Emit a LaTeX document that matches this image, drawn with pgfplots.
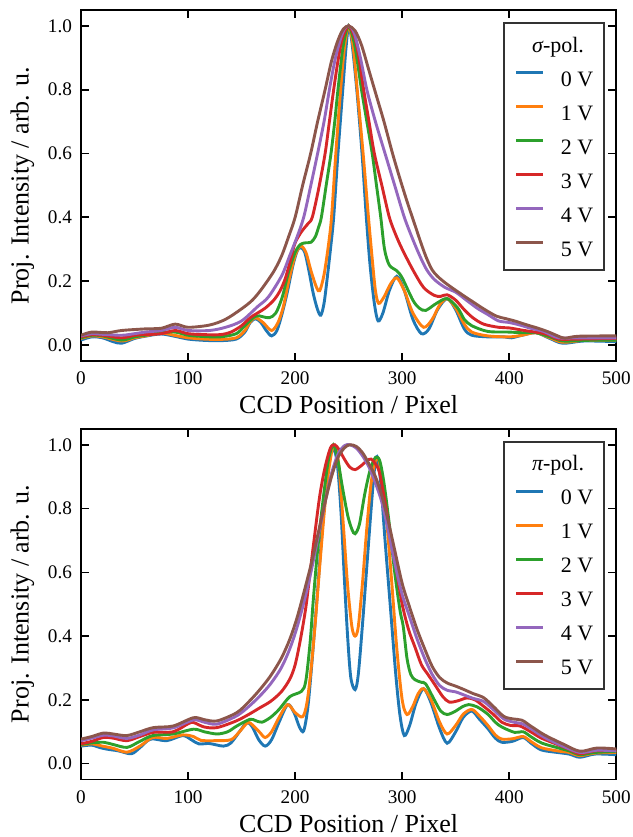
\documentclass[border=0pt]{standalone}
\usepackage{fontspec}
\setmainfont{Liberation Serif}
\usepackage{pgfplots}
\pgfplotsset{compat=1.18}

\definecolor{c0}{HTML}{1F77B4}
\definecolor{c1}{HTML}{FF7F0E}
\definecolor{c2}{HTML}{2CA02C}
\definecolor{c3}{HTML}{D62728}
\definecolor{c4}{HTML}{9467BD}
\definecolor{c5}{HTML}{8C564B}

\pgfplotsset{
  panel/.style={
    scale only axis, width=267.5pt, height=175.3pt,
    xmin=0, xmax=500, ymin=-0.05, ymax=1.05,
    xtick={0,100,...,500}, ytick={0,0.2,0.4,0.6,0.8,1.0},
    tick align=inside, major tick length=4pt,
    every tick/.style={black, line width=0.8pt},
    axis line style={line width=0.8pt},
    xlabel={CCD Position / Pixel},
    ylabel={Proj. Intensity / arb. u.},
    label style={font=\fontsize{13}{15}\selectfont},
    xlabel style={inner sep=1.5pt, yshift=-0.5pt},
    ticklabel style={font=\fontsize{9.6}{11}\selectfont},
    /pgf/number format/assume math mode=true,
    yticklabel style={/pgf/number format/fixed, /pgf/number format/precision=1,
      /pgf/number format/fixed zerofill, xshift=-1pt},
    xticklabel style={yshift=-2pt},
    legend style={at={(1,1)}, anchor=north east, xshift=-5.5pt, yshift=-6pt,
      draw=black!80, line width=1pt, inner xsep=5.5pt, inner ysep=7pt,
      font=\fontsize{11}{13}\selectfont, row sep=9.5pt, column sep=8pt,
      nodes={inner sep=0pt, text height=7.5pt, text depth=0pt}},
    legend image code/.code={\draw[#1] (0pt,3pt) -- (13.5pt,3pt);},
    every axis plot/.append style={line width=1.45pt, smooth, no markers},
  }
}

\begin{document}
\begin{tikzpicture}
\useasboundingbox (-40.5pt,-238pt) rectangle (275.5pt,180.3pt);

% sigma polarisation
\begin{axis}[panel, name=top, at={(0,0)}, anchor=south west]
\addlegendimage{empty legend}
\addlegendentry{\hspace*{-19pt}{\itshape σ}-pol.}

\addplot[c0] coordinates {
(0,0.015)(10,0.025)(20,0.022)(30,0.01)(38,0.005)(50,0.02)(60,0.027)(75,0.034)(90,0.025)(100,0.018)
(115,0.014)(130,0.013)(145,0.018)(153,0.04)(158,0.07)(163,0.082)(168,0.07)(173,0.045)(178,0.028)
(183,0.045)(188,0.1)(193,0.17)(198,0.25)(202,0.295)(205,0.305)(209,0.29)(213,0.23)(217,0.16)
(221,0.11)(224,0.093)(227,0.13)(230,0.21)(233,0.30)(236,0.40)(240,0.60)(244.5,0.80)(247.5,0.93)
(250,1.0)(253,0.95)(257.6,0.80)(262.5,0.60)(266.5,0.40)(270,0.25)(274,0.13)(277.5,0.075)(282,0.10)
(288,0.17)(295,0.215)(302,0.17)(310,0.08)(318,0.035)(325,0.05)(333,0.11)(342,0.145)(350,0.11)
(358,0.05)(365,0.03)(380,0.025)(395,0.025)(402,0.022)(412,0.03)(425,0.038)(438,0.02)(450,0.005)
(470,0.012)(500,0.01)};
\addlegendentry{0 V}

\addplot[c1] coordinates {
(0,0.02)(10,0.028)(20,0.025)(38,0.012)(50,0.022)(60,0.028)(75,0.037)(90,0.028)(100,0.022)
(115,0.018)(130,0.017)(145,0.022)(153,0.045)(158,0.072)(163,0.085)(170,0.07)(178,0.045)(184,0.07)
(189,0.12)(194,0.2)(200,0.28)(205,0.31)(210,0.29)(215,0.23)(220,0.18)(223,0.17)(227,0.22)
(231,0.31)(234,0.40)(238,0.60)(242.5,0.80)(246,0.93)(250,1.0)(254,0.94)(258,0.80)(263.5,0.60)
(268.5,0.40)(272,0.27)(275,0.17)(278,0.13)(283,0.15)(289,0.19)(295,0.21)(302,0.17)(310,0.10)
(320,0.055)(328,0.08)(335,0.125)(342,0.145)(350,0.115)(358,0.065)(365,0.04)(380,0.028)(400,0.025)
(412,0.03)(425,0.038)(438,0.022)(450,0.008)(470,0.014)(500,0.015)};
\addlegendentry{1 V}

\addplot[c2] coordinates {
(0,0.022)(10,0.03)(20,0.028)(38,0.015)(50,0.025)(60,0.03)(75,0.038)(88,0.04)(100,0.03)
(115,0.026)(130,0.025)(145,0.035)(153,0.06)(163,0.09)(170,0.088)(176,0.085)(182,0.1)(188,0.15)
(194,0.23)(200,0.29)(205,0.315)(210,0.32)(215,0.322)(219,0.34)(222,0.37)(224.5,0.40)(229,0.50)
(233.5,0.60)(237,0.70)(240,0.80)(245,0.94)(250,1.0)(255,0.95)(258.5,0.88)(262,0.80)(267,0.70)
(272,0.60)(276,0.50)(280,0.40)(283.5,0.30)(288,0.25)(295,0.232)(300,0.21)(310,0.14)(316,0.115)
(322,0.108)(332,0.13)(342,0.145)(352,0.115)(358,0.08)(365,0.06)(380,0.042)(400,0.04)(412,0.038)
(425,0.038)(438,0.025)(450,0.012)(470,0.014)(500,0.015)};
\addlegendentry{2 V}

\addplot[c3] coordinates {
(0,0.025)(10,0.032)(20,0.03)(38,0.022)(50,0.03)(60,0.032)(75,0.035)(88,0.045)(100,0.035)
(115,0.032)(130,0.032)(140,0.04)(150,0.06)(158,0.085)(165,0.10)(172,0.115)(180,0.14)(186,0.17)
(191,0.21)(196,0.27)(200,0.32)(206,0.355)(212,0.38)(216,0.40)(222,0.49)(228,0.60)(232,0.70)
(236,0.80)(240,0.89)(244,0.96)(250,1.0)(256,0.96)(260,0.89)(264,0.80)(269,0.70)(274,0.60)
(281,0.50)(288,0.40)(294,0.345)(300,0.30)(310,0.235)(320,0.18)(330,0.155)(336,0.152)(342,0.157)
(350,0.14)(358,0.11)(366,0.085)(376,0.065)(390,0.055)(400,0.053)(414,0.045)(430,0.037)(438,0.03)
(446,0.018)(465,0.018)(500,0.02)};
\addlegendentry{3 V}

\addplot[c4] coordinates {
(0,0.028)(10,0.035)(20,0.033)(38,0.03)(50,0.035)(60,0.04)(75,0.045)(88,0.055)(100,0.045)
(120,0.045)(135,0.055)(150,0.075)(165,0.12)(175,0.15)(187.5,0.217)(195,0.28)(202,0.34)(208,0.40)
(214,0.49)(221,0.60)(227,0.70)(232,0.80)(237,0.89)(242,0.955)(246,0.99)(250,1.0)(255,0.98)
(261,0.90)(267,0.80)(275,0.70)(284,0.60)(293,0.50)(302,0.40)(310,0.33)(317,0.275)(323,0.235)
(330,0.205)(340,0.18)(350,0.165)(360,0.14)(370,0.115)(380,0.095)(390,0.075)(400,0.07)(410,0.062)
(420,0.052)(432,0.042)(446,0.022)(465,0.022)(500,0.022)};
\addlegendentry{4 V}

\addplot[c5] coordinates {
(0,0.03)(10,0.04)(25,0.038)(38,0.045)(60,0.05)(75,0.052)(88,0.065)(100,0.055)(120,0.062)
(135,0.08)(150,0.113)(160,0.14)(168.7,0.175)(180,0.23)(187.5,0.28)(194,0.34)(200,0.40)(207,0.50)
(214.5,0.60)(221,0.70)(228,0.80)(234,0.89)(240,0.955)(245,0.99)(250,1.0)(256,0.985)(262,0.94)
(269,0.86)(276,0.78)(283,0.70)(291,0.60)(298,0.52)(305,0.445)(312,0.375)(318,0.315)(323,0.27)
(328,0.235)(333,0.215)(340,0.195)(347,0.178)(357,0.155)(366,0.135)(376,0.113)(388,0.09)(397,0.082)
(406,0.074)(417,0.062)(427,0.052)(437,0.04)(446,0.027)(452,0.021)(465,0.027)(500,0.028)};
\addlegendentry{5 V}
\end{axis}

% pi polarisation
\begin{axis}[panel, name=bottom, at={(0,-209.3pt)}, anchor=south west]
\addlegendimage{empty legend}
\addlegendentry{\hspace*{-19pt}{\itshape π}-pol.}

\addplot[c0] coordinates {
(0,0.055)(10,0.058)(18,0.05)(25,0.045)(35,0.04)(47,0.031)(55,0.05)(65,0.077)(80,0.072)(95,0.088)
(103,0.075)(110,0.062)(120,0.063)(133,0.055)(140,0.065)(148,0.1)(155,0.129)(160,0.115)(166,0.075)
(172,0.055)(178,0.075)(185,0.13)(193,0.185)(199,0.16)(204,0.115)(208,0.103)(212,0.18)(216,0.33)
(220,0.5)(225,0.72)(229,0.88)(233,0.97)(237,0.98)(240,0.92)(243,0.78)(246,0.58)(249,0.4)
(252,0.27)(256,0.232)(259,0.28)(263,0.44)(267,0.62)(271,0.80)(274,0.92)(276.4,0.963)(280,0.88)
(284,0.70)(289,0.49)(294,0.28)(298,0.15)(302,0.088)(307,0.12)(313,0.19)(320,0.235)(327,0.19)
(335,0.11)(342,0.064)(350,0.10)(357,0.145)(365,0.165)(372,0.14)(380,0.11)(387,0.08)(393,0.067)
(403,0.07)(413,0.082)(420,0.065)(430,0.043)(445,0.035)(456,0.03)(466,0.02)(480,0.03)(500,0.028)};
\addlegendentry{0 V}

\addplot[c1] coordinates {
(0,0.058)(10,0.062)(20,0.055)(30,0.048)(43,0.036)(55,0.055)(67,0.082)(80,0.079)(95,0.09)
(105,0.085)(112,0.073)(125,0.072)(140,0.075)(148,0.1)(156,0.129)(162,0.115)(167,0.098)(172,0.082)
(178,0.1)(185,0.145)(193,0.185)(200,0.16)(207,0.147)(211,0.19)(215,0.3)(219,0.45)(223,0.62)
(227,0.78)(231,0.91)(235,0.99)(238,0.99)(241,0.93)(245,0.75)(249,0.56)(253,0.43)(256,0.40)
(259,0.43)(263,0.57)(267,0.74)(271,0.88)(275,0.95)(278,0.955)(281,0.9)(285,0.78)(290,0.58)
(295,0.36)(300,0.2)(304.5,0.154)(310,0.18)(315,0.22)(320,0.235)(327,0.2)(335,0.13)(342,0.093)
(350,0.12)(357,0.155)(365,0.17)(372,0.15)(380,0.12)(387,0.09)(393,0.077)(403,0.078)(413,0.085)
(420,0.07)(430,0.05)(445,0.04)(456,0.035)(466,0.025)(480,0.033)(500,0.035)};
\addlegendentry{1 V}

\addplot[c2] coordinates {
(0,0.06)(10,0.065)(21,0.067)(30,0.06)(43,0.051)(55,0.07)(67,0.088)(86,0.093)(105,0.108)
(115,0.1)(127,0.093)(137,0.1)(145.5,0.118)(157.7,0.139)(163,0.135)(169,0.13)(177,0.145)(185,0.17)
(195,0.21)(206,0.227)(210,0.26)(214,0.38)(217,0.515)(221,0.67)(226,0.824)(231,0.95)(235.7,1.0)
(240,0.95)(244,0.87)(249,0.78)(253,0.735)(256,0.721)(260,0.75)(265,0.845)(270,0.92)(275,0.96)
(279,0.95)(283,0.88)(288,0.75)(293,0.6)(298,0.48)(301,0.43)(304.5,0.33)(308,0.28)(312,0.263)
(318,0.255)(322,0.25)(330,0.2)(336,0.165)(342,0.154)(350,0.165)(356,0.178)(362,0.185)(370,0.178)
(380,0.155)(387,0.13)(393,0.115)(405,0.098)(413,0.1)(420,0.085)(430,0.065)(445,0.05)(456,0.04)
(466,0.028)(480,0.035)(500,0.038)};
\addlegendentry{2 V}

\addplot[c3] coordinates {
(0,0.062)(10,0.07)(21,0.082)(30,0.08)(42.7,0.072)(55,0.085)(67.6,0.098)(86,0.1)(100,0.125)
(105,0.129)(115,0.115)(127,0.113)(145,0.134)(157,0.155)(167,0.175)(177,0.195)(187,0.225)
(195,0.265)(200,0.31)(205,0.39)(210,0.49)(214,0.6)(218,0.71)(223,0.84)(228,0.93)(233,0.99)
(237,1.0)(241,0.985)(246,0.955)(251,0.93)(256,0.922)(262,0.935)(267,0.95)(271,0.955)(275,0.94)
(279,0.91)(285,0.8)(290,0.7)(295,0.6)(300,0.5)(306,0.42)(312,0.365)(318,0.31)(324,0.28)
(331,0.245)(338,0.21)(344,0.193)(352,0.197)(360.5,0.206)(368,0.2)(376,0.18)(385,0.155)(393,0.13)
(401,0.12)(410,0.118)(420,0.1)(430,0.08)(445,0.06)(456,0.045)(466,0.031)(480,0.04)(500,0.041)};
\addlegendentry{3 V}

\addplot[c4] coordinates {
(0,0.072)(10,0.08)(21,0.089)(30,0.087)(42.7,0.079)(55,0.09)(67.6,0.106)(86,0.112)(105,0.137)
(115,0.13)(127,0.124)(145.5,0.15)(157,0.18)(167,0.212)(177,0.25)(187,0.3)(195,0.36)(202,0.43)
(210,0.53)(216,0.62)(222,0.72)(228,0.82)(234,0.91)(240,0.97)(246,0.997)(251,1.0)(257,0.99)
(263,0.965)(269,0.93)(275,0.88)(281,0.82)(287,0.73)(293,0.63)(300,0.53)(307,0.46)(314,0.39)
(321,0.33)(328,0.28)(335,0.245)(342,0.23)(350,0.225)(358,0.215)(366,0.205)(376,0.195)(385,0.17)
(395,0.14)(404,0.13)(412,0.125)(420,0.11)(433,0.082)(450,0.055)(466,0.035)(482,0.042)(500,0.04)};
\addlegendentry{4 V}

\addplot[c5] coordinates {
(0,0.077)(10,0.085)(21,0.096)(30,0.093)(42.7,0.088)(55,0.1)(67.6,0.113)(86,0.118)(105,0.144)
(115,0.138)(127,0.134)(145.5,0.16)(157,0.195)(167,0.232)(177,0.275)(187,0.33)(195,0.39)(202,0.46)
(210,0.56)(216,0.64)(222,0.73)(228,0.82)(234,0.9)(240,0.96)(246,0.99)(251,1.0)(257,0.995)
(263,0.975)(269,0.94)(275,0.9)(281,0.84)(287,0.76)(293,0.67)(300,0.565)(307,0.49)(314,0.42)
(321,0.36)(328,0.305)(335,0.27)(342,0.253)(350,0.243)(358,0.232)(366,0.22)(376,0.207)(385,0.18)
(395,0.148)(404,0.14)(412,0.136)(420,0.118)(433,0.09)(450,0.062)(466,0.039)(482,0.049)(500,0.046)};
\addlegendentry{5 V}
\end{axis}
\end{tikzpicture}
\end{document}
